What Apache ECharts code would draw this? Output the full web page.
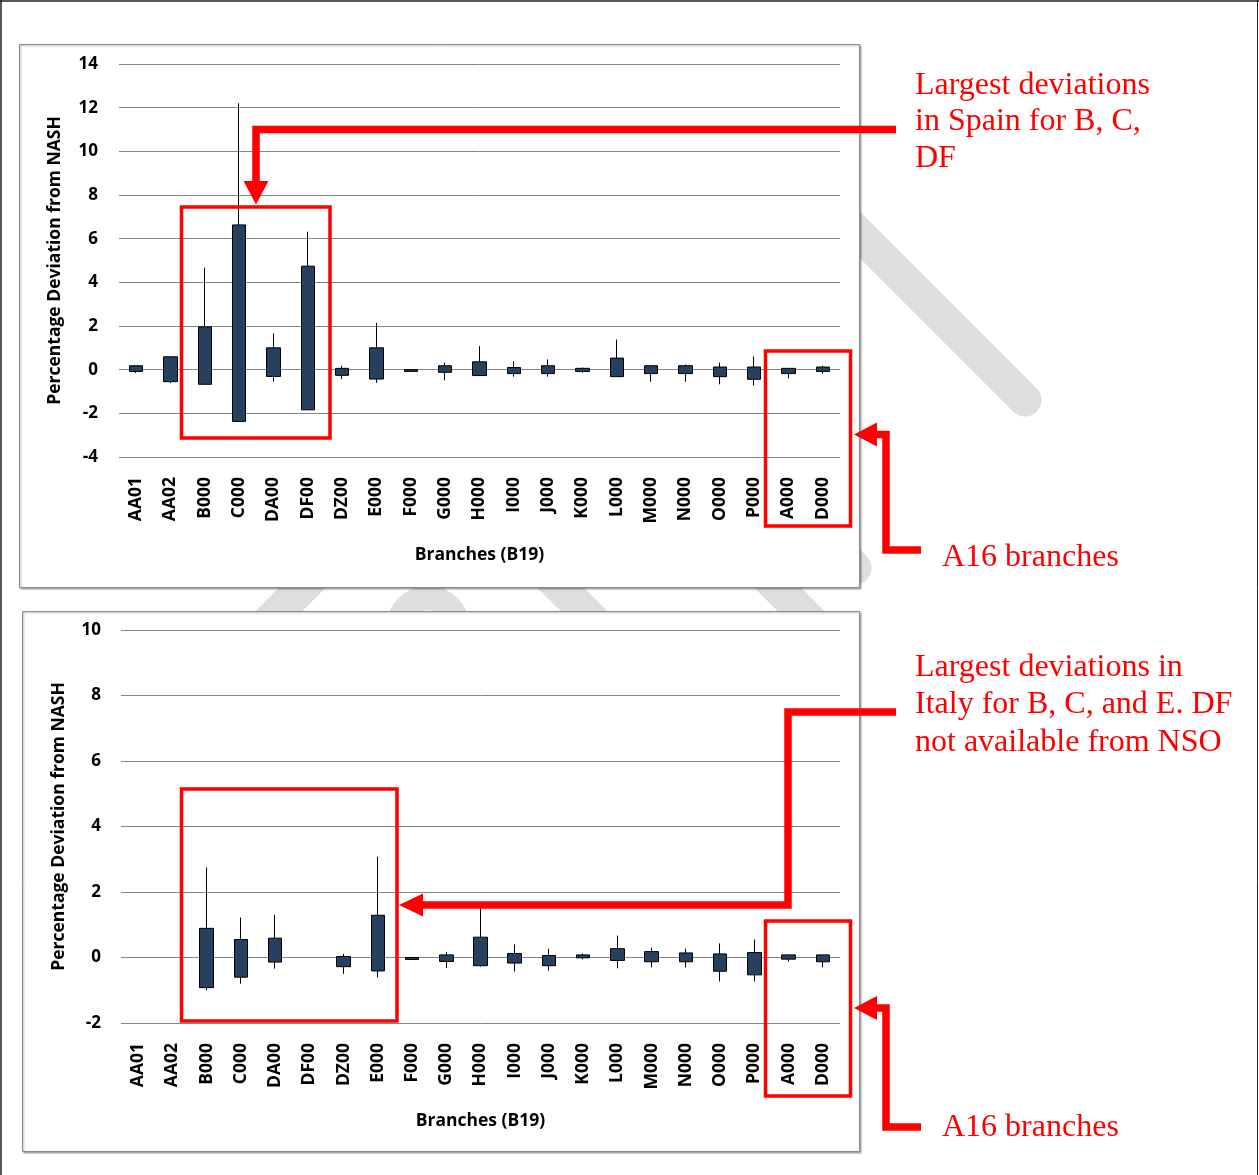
<!DOCTYPE html>
<html>
<head>
<meta charset="utf-8">
<script src="https://cdn.jsdelivr.net/npm/echarts@6/dist/echarts.min.js"></script>
<style>
html,body{margin:0;padding:0;background:#fff;}
#chart{width:1259px;height:1175px;}
</style>
</head>
<body>
<div id="chart"></div>
<script>
// ---- data ----
const categories = ['AA01','AA02','B000','C000','DA00','DF00','DZ00','E000','F000','G000','H000','I000','J000','K000','L000','M000','N000','O000','P000','A000','D000'];

// Spain (top panel)
const spainBoxLow   = [-0.08,-0.55,-0.67,-2.37,-0.31,-1.84,-0.26,-0.43,-0.08,-0.12,-0.27,-0.18,-0.18,-0.08,-0.32,-0.18,-0.18,-0.32,-0.44,-0.18,-0.08];
const spainBoxHigh  = [ 0.18, 0.59, 1.96, 6.63, 1.00, 4.74, 0.06, 1.00, 0.00, 0.18, 0.36, 0.10, 0.18, 0.06, 0.53, 0.18, 0.18, 0.12, 0.12, 0.06, 0.12];
const spainWhiskLow = [-0.15,-0.61,-0.67,-2.37,-0.55,-1.84,-0.43,-0.60,-0.08,-0.49,-0.27,-0.32,-0.32,-0.15,-0.32,-0.55,-0.55,-0.67,-0.73,-0.40,-0.18];
const spainWhiskHigh= [ 0.18, 0.59, 4.68,12.20, 1.66, 6.32, 0.18, 2.14, 0.00, 0.32, 1.08, 0.38, 0.47, 0.10, 1.38, 0.18, 0.24, 0.32, 0.60, 0.06, 0.18];

// Italy (bottom panel)
const italyBoxLow   = [null,null,-0.92,-0.60,-0.14,null,-0.28,-0.41,-0.06,-0.12,-0.25,-0.17,-0.25,-0.01,-0.09,-0.13,-0.13,-0.42,-0.53,-0.05,-0.13];
const italyBoxHigh  = [null,null, 0.89, 0.55, 0.59,null, 0.03, 1.29, 0.00, 0.08, 0.62, 0.12, 0.06, 0.08, 0.27, 0.18, 0.14, 0.11, 0.15, 0.08, 0.08];
const italyWhiskLow = [null,null,-1.00,-0.80,-0.34,null,-0.50,-0.61,-0.06,-0.32,-0.28,-0.43,-0.40,-0.06,-0.33,-0.30,-0.30,-0.73,-0.73,-0.13,-0.30];
const italyWhiskHigh= [null,null, 2.75, 1.22, 1.30,null, 0.11, 3.08, 0.00, 0.17, 1.50, 0.40, 0.27, 0.12, 0.67, 0.30, 0.27, 0.43, 0.55, 0.08, 0.08];

const yTitle = 'Percentage Deviation from NASH';
const xTitle = 'Branches (B19)';
const noteSpain = ['Largest deviations', 'in Spain for B, C,', 'DF'];
const noteItaly = ['Largest deviations in', 'Italy for B, C, and E. DF', 'not available from NSO'];
const noteA16 = 'A16 branches';

// ---- build ----
function ohlc(lo, hi, wl, wh){
  return lo.map((v,i)=> v===null ? ['-','-','-','-'] : [lo[i], hi[i], wl[i], wh[i]]);
}
const FONT = '"Open Sans", "Noto Sans", sans-serif';
const RED = '#ff0000';
const WM = '#dedede';

function xAxisCfg(gi){
  return {
    type:'category', gridIndex:gi, data:categories, boundaryGap:true,
    axisLine:{show:false}, axisTick:{show:false}, splitLine:{show:false},
    axisLabel:{rotate:90, interval:0, margin:20, color:'#000', fontWeight:'bold', fontSize:17.5, fontFamily:FONT},
    name:xTitle, nameLocation:'middle', nameGap:89,
    nameTextStyle:{color:'#000', fontWeight:'bold', fontSize:17.5, fontFamily:FONT},
    z:3
  };
}
function yAxisCfg(gi, min, max, gap, margin){
  return {
    type:'value', gridIndex:gi, min:min, max:max, interval:2,
    axisLine:{show:false}, axisTick:{show:false},
    splitLine:{show:true, lineStyle:{color:'#868686', width:1}},
    axisLabel:{margin:margin, color:'#000', fontWeight:'bold', fontSize:17, fontFamily:FONT},
    name:yTitle, nameLocation:'middle', nameGap:gap, nameRotate:90,
    nameTextStyle:{color:'#000', fontWeight:'bold', fontSize:17.5, fontFamily:FONT},
    z:3
  };
}
const candleStyle = {color:'#27405f', color0:'#27405f', borderColor:'#000', borderColor0:'#000', borderWidth:1};

function redRect(x1,y1,x2,y2){
  return {type:'rect', z:100, shape:{x:x1,y:y1,width:x2-x1,height:y2-y1}, style:{fill:'none', stroke:RED, lineWidth:3.5}};
}
function redLine(points){
  return {type:'polyline', z:100, shape:{points:points}, style:{fill:'none', stroke:RED, lineWidth:7.5, lineJoin:'miter'}};
}
function redHead(points){
  return {type:'polygon', z:100, shape:{points:points}, style:{fill:RED, stroke:null}};
}
function redText(x,y,t,size){
  return {type:'text', z:100, x:x, y:y, style:{text:t, fill:RED, font:size+'px "Liberation Serif", "Times New Roman", serif', textAlign:'left', textVerticalAlign:'middle'}};
}
function wmLine(x1,y1,x2,y2,w){
  return {type:'line', z:-2, shape:{x1:x1,y1:y1,x2:x2,y2:y2}, style:{stroke:WM, lineWidth:w||33, lineCap:'round'}};
}
function box(x1,y1,x2,y2){
  return {type:'rect', z:-1, shape:{x:x1,y:y1,width:x2-x1,height:y2-y1},
    style:{fill:'#fff', stroke:'#8e8e8e', lineWidth:1, shadowBlur:2, shadowOffsetX:1, shadowOffsetY:1, shadowColor:'rgba(0,0,0,0.35)'}};
}

const graphics = [
  // watermark pieces (mostly hidden behind the chart boxes)
  wmLine(700,75,1025,400),
  wmLine(230,660,318,572),
  {type:'arc', z:-2, shape:{cx:428,cy:628,r:30,startAngle:0,endAngle:Math.PI*2}, style:{stroke:WM, lineWidth:24, fill:'none'}},
  wmLine(520,547,625,652),
  wmLine(745,555,835,645),
  wmLine(815,528,855,568),
  // chart boxes
  box(19.5,44.5,859.5,587.5),
  box(22.5,611.5,859.5,1151.5),
  // outer frame
  {type:'line', z:100, shape:{x1:0,y1:1,x2:1259,y2:1}, style:{stroke:'#222', lineWidth:1.5}},
  {type:'line', z:100, shape:{x1:1,y1:0,x2:1,y2:1175}, style:{stroke:'#222', lineWidth:1.5}},
  {type:'line', z:100, shape:{x1:1257.5,y1:0,x2:1257.5,y2:1175}, style:{stroke:'#222', lineWidth:1}},
  // top annotations
  redRect(181.5,207,330,438),
  redRect(765.5,351,850.5,526),
  redLine([[896,129.5],[256,129.5],[256,182]]),
  redHead([[243.5,181],[268.5,181],[256,204.5]]),
  redLine([[921,550],[886,550],[886,434.5],[875,434.5]]),
  redHead([[877,422.5],[877,446.5],[854,434.5]]),
  redText(915,86,noteSpain[0],32),
  redText(915,122,noteSpain[1],32),
  redText(915,159,noteSpain[2],32),
  redText(942,558,noteA16,32),
  // bottom annotations
  redRect(181.5,789,397,1021),
  redRect(765.5,921,850.5,1096),
  redLine([[896,712],[788,712],[788,905],[420,905]]),
  redHead([[423,893.5],[423,916.5],[399,905]]),
  redLine([[921,1127],[886,1127],[886,1008],[875,1008]]),
  redHead([[877,996],[877,1020],[854,1008]]),
  redText(915,668,noteItaly[0],32),
  redText(915,705,noteItaly[1],32),
  redText(915,743,noteItaly[2],32),
  redText(942,1128,noteA16,32)
];

const option = {
  animation:false,
  backgroundColor:'#fff',
  grid:[
    {left:119, top:64, width:721, height:393, containLabel:false},
    {left:121, top:630, width:719, height:393, containLabel:false}
  ],
  xAxis:[xAxisCfg(0), xAxisCfg(1)],
  yAxis:[yAxisCfg(0,-4,14,55,21), yAxisCfg(1,-2,10,53,20)],
  series:[
    {type:'candlestick', xAxisIndex:0, yAxisIndex:0, barWidth:14, itemStyle:candleStyle, z:5,
     data:ohlc(spainBoxLow, spainBoxHigh, spainWhiskLow, spainWhiskHigh)},
    {type:'candlestick', xAxisIndex:1, yAxisIndex:1, barWidth:14, itemStyle:candleStyle, z:5,
     data:ohlc(italyBoxLow, italyBoxHigh, italyWhiskLow, italyWhiskHigh)}
  ],
  graphic:{elements:graphics}
};
const chart = echarts.init(document.getElementById('chart'), null, {renderer:'canvas'});
chart.setOption(option);
</script>
</body>
</html>
